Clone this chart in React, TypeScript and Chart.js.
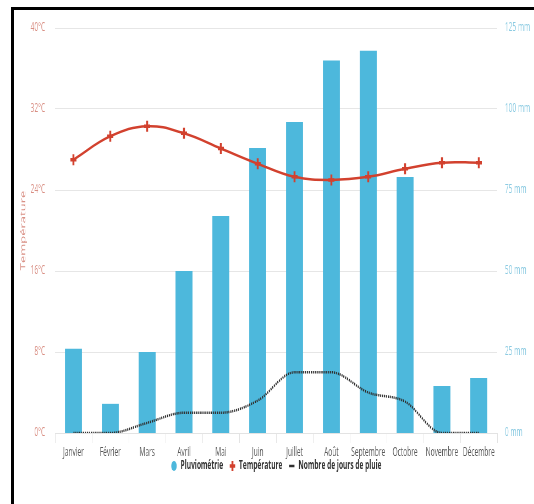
import { useEffect, useRef } from "react";
import { Chart, registerables } from "chart.js";

Chart.register(...registerables);

// Monthly climate figures
const months = [
  "Janvier", "Février", "Mars", "Avril", "Mai", "Juin",
  "Juillet", "Août", "Septembre", "Octobre", "Novembre", "Décembre",
];
const rainfallMm = [26, 9, 25, 50, 67, 88, 96, 115, 118, 79, 14.5, 17];
const temperatureC = [27.0, 29.3, 30.3, 29.6, 28.1, 26.6, 25.3, 25.0, 25.3, 26.1, 26.7, 26.7];
const rainyDays = [0, 0, 1, 2, 2, 3.2, 6, 6, 4, 3.1, 0, 0];

// Axis ranges
const tempMax = 40;
const tempStep = 8;
const rainMax = 125;
const rainStep = 25;
const daysMax = 40;

// The chart is laid out on a wide canvas and squeezed horizontally,
// which gives the condensed lettering and narrow markers.
const SQUEEZE = 0.55;
const PAGE_W = 534;
const PAGE_H = 504;
const INNER_W = Math.round(PAGE_W / SQUEEZE);
const PLOT_LEFT = Math.round(55 / SQUEEZE);
const PLOT_RIGHT = Math.round(497 / SQUEEZE);

const FONT = "'Open Sans', 'Liberation Sans', sans-serif";

// The month labels hang below the thin x-axis box; widen its clip area so
// they are not cut off by the legend row underneath.
const unclipMonthLabels = {
  id: "unclipMonthLabels",
  afterLayout(chart: any) {
    const x = chart.scales.x;
    if (x) x.bottom = x.top + 30;
  },
};

export default function App() {
  const canvasRef = useRef<HTMLCanvasElement | null>(null);

  useEffect(() => {
    const canvas = canvasRef.current;
    if (!canvas) return;

    const chart = new Chart(canvas, {
      type: "bar",
      data: {
        labels: months,
        datasets: [
          {
            type: "bar",
            label: "Pluviométrie",
            data: rainfallMm,
            yAxisID: "yRain",
            backgroundColor: "#4db8dc",
            borderColor: "#4db8dc",
            borderWidth: 0,
            barPercentage: 0.46,
            categoryPercentage: 1,
            order: 3,
            pointStyle: "circle",
          } as any,
          {
            type: "line",
            label: "Température",
            data: temperatureC,
            yAxisID: "yTemp",
            borderColor: "#d2412e",
            backgroundColor: "#d2412e",
            borderWidth: 2.5,
            tension: 0.4,
            pointStyle: "cross",
            pointRadius: 5.5,
            pointBorderWidth: 3.5,
            pointBorderColor: "#d2412e",
            order: 1,
          } as any,
          {
            type: "line",
            label: "Nombre de jours de pluie",
            data: rainyDays,
            yAxisID: "yDays",
            borderColor: "#303030",
            backgroundColor: "#303030",
            borderWidth: 2.5,
            borderDash: [2, 1.5],
            cubicInterpolationMode: "monotone",
            pointRadius: 0,
            pointStyle: "line",
            order: 2,
          } as any,
        ],
      },
      options: {
        responsive: false,
        animation: false,
        devicePixelRatio: 1,
        layout: { padding: { top: 28, bottom: 22, left: 0, right: 0 } },
        plugins: {
          tooltip: { enabled: false },
          legend: {
            position: "bottom",
            fullSize: false,
            labels: {
              usePointStyle: true,
              boxHeight: 7,
              padding: 11,
              color: "#333",
              font: { family: FONT, size: 12, weight: "bold" },
              sort: (a: any, b: any) => a.datasetIndex - b.datasetIndex,
            },
          },
        },
        scales: {
          x: {
            offset: true,
            grid: {
              display: true,
              drawOnChartArea: false,
              offset: true,
              tickLength: 10,
              color: "#e3e3e3",
            },
            border: { display: true, color: "#e3e3e3" },
            ticks: {
              color: "#5a5a5a",
              padding: 2,
              maxRotation: 0,
              autoSkip: false,
              font: { family: FONT, size: 12 },
            },
            afterFit: (scale: any) => {
              scale.height = 16;
            },
          },
          yTemp: {
            position: "left",
            min: 0,
            max: tempMax,
            ticks: {
              stepSize: tempStep,
              padding: 18,
              color: "#d98f84",
              font: { family: FONT, size: 12 },
              callback: (v: any) => `${v}°C`,
            },
            grid: { color: "#e6e6e6", drawTicks: false },
            border: { display: false },
            title: {
              display: true,
              text: "Température",
              color: "#d98f84",
              font: { family: FONT, size: 13 },
              padding: { top: 34, bottom: 0 },
            },
            afterFit: (scale: any) => {
              scale.width = PLOT_LEFT;
            },
          },
          yRain: {
            position: "right",
            min: 0,
            max: rainMax,
            ticks: {
              stepSize: rainStep,
              padding: 14,
              color: "#8ccbe2",
              font: { family: FONT, size: 12 },
              callback: (v: any) => `${v} mm`,
            },
            grid: { display: false, drawTicks: false },
            border: { display: false },
            afterFit: (scale: any) => {
              scale.width = INNER_W - PLOT_RIGHT;
            },
          },
          yDays: {
            display: false,
            min: 0,
            max: daysMax,
          },
        },
      } as any,
      plugins: [unclipMonthLabels],
    });

    return () => chart.destroy();
  }, []);

  return (
    <div
      style={{
        position: "absolute",
        left: 0,
        top: 0,
        width: PAGE_W,
        height: PAGE_H,
        background: "#fff",
        overflow: "hidden",
      }}
    >
      <div
        style={{
          position: "absolute",
          left: 11,
          top: 7,
          right: 0,
          bottom: 0,
          borderTop: "3px solid #000",
          borderLeft: "3px solid #000",
        }}
      />
      <div
        style={{
          position: "absolute",
          left: 0,
          top: 0,
          width: INNER_W,
          height: PAGE_H,
          transform: `scaleX(${SQUEEZE})`,
          transformOrigin: "0 0",
        }}
      >
        <canvas
          ref={canvasRef}
          width={INNER_W}
          height={PAGE_H}
          style={{ display: "block", width: INNER_W, height: PAGE_H }}
        />
      </div>
    </div>
  );
}
